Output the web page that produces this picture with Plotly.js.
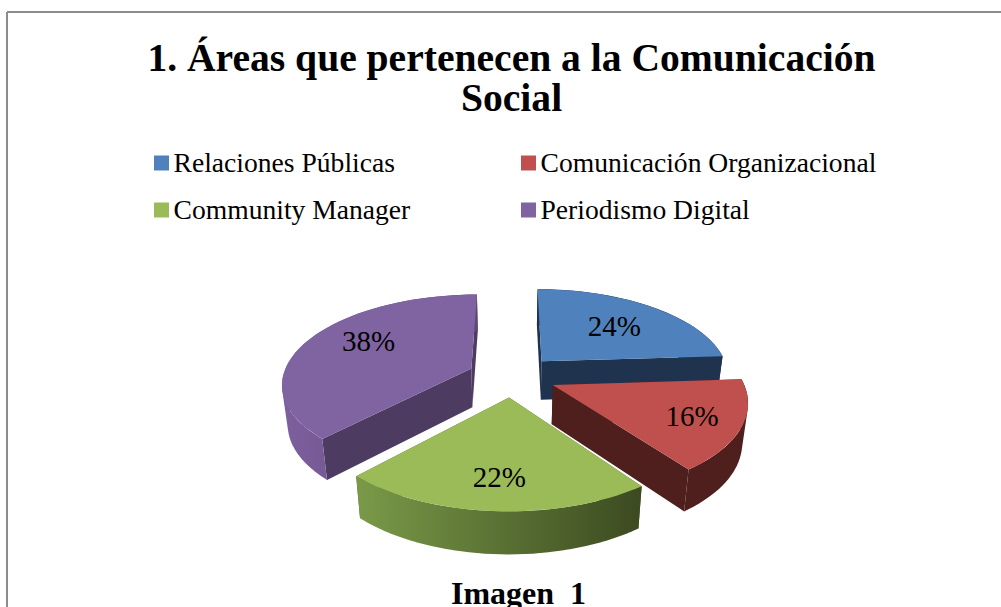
<!DOCTYPE html>
<html><head><meta charset="utf-8">
<script src="https://cdn.plot.ly/plotly-3.0.1.min.js"></script>
<style>html,body{margin:0;padding:0;background:#fff}#c{width:1001px;height:607px}</style>
</head><body><div id="c"></div>
<script>
// Data
const categories = ['Relaciones Públicas','Comunicación Organizacional','Community Manager','Periodismo Digital'];
const percents = [24,16,22,38];
const topColors = ['#4f81bd','#c0504d','#9bbb59','#8064a2'];
const wallColors = ['#1f324e','#4f1f1e','#4f6029','#4d3b62'];
const rimScales = [['#1f324e','#1f324e'],['#4f1f1e','#4f1f1e'],['#7a9a48','#3b4a20'],['#7d5f9e','#5e4879']];
const titleLine1 = '1. Áreas que pertenecen a la Comunicación';
const titleLine2 = 'Social';
const captionText = 'Imagen\u00a0\u00a01';

// Projection of the exploded tilted pie onto page-sized axes
const cx=512, cy=376, A=188.5, B=88, p=0.16, explode=0.235;
function proj(u,v){const d=1-p*v;return [cx+A*u/d, cy+B*v/d];}
function lower(pt){return [cx+(pt[0]-cx)*0.975, pt[1]+38.5+0.03*(pt[1]-360)];}
const rad=d=>d*Math.PI/180;
function surf(mid,r,th){
  return proj(explode*Math.sin(rad(mid))+r*Math.sin(rad(th)), -explode*Math.cos(rad(mid))-r*Math.cos(rad(th)));
}
function poly(pts,color,extra){
  return Object.assign({type:'scatter',mode:'lines',x:pts.map(q=>q[0]),y:pts.map(q=>q[1]),
    fill:'toself',fillcolor:color,line:{width:0,color:color},hoverinfo:'skip',showlegend:false},extra||{});
}
function area(q){let s=0;for(let k=0;k<q.length;k++){const a=q[k],b=q[(k+1)%q.length];s+=a[0]*b[1]-b[0]*a[1];}return s;}
const traces=[];
const starts=[]; let acc=0; percents.forEach(v=>{starts.push(acc);acc+=v*3.6;});
const mids=percents.map((v,i)=>starts[i]+v*1.8);
[3,0,1,2].forEach(i=>{
  const a=starts[i], b=a+percents[i]*3.6, m=mids[i];
  const apex=surf(m,0,0), pa=surf(m,1,a), pb=surf(m,1,b);
  const arc=[]; for(let t=a;t<=b+1e-6;t+=2) arc.push(surf(m,1,t)); arc.push(pb);
  const wall=(q,r)=>[q,r,lower(r),lower(q),q];
  traces.push(poly(wall(apex,pa),wallColors[i]));
  traces.push(poly(wall(apex,pb),wallColors[i]));
  // Rim: overlapping swept quads, all wound the same way so they merge without gaps
  const rim=[];
  for(let k=0;k<arc.length-1;k++){
    const n=arc[Math.min(k+2,arc.length-1)];
    let q=[arc[k],n,lower(n),lower(arc[k])];
    if(area(q)<0) q.reverse();
    if(rim.length) rim.push([null,null]);
    rim.push(...q,q[0]);
  }
  const xs=rim.filter(q=>q[0]!==null).map(q=>q[0]);
  traces.push(poly(rim,rimScales[i][0],{fillgradient:{type:'horizontal',start:Math.min(...xs),stop:Math.max(...xs),
    colorscale:[[0,rimScales[i][0]],[1,rimScales[i][1]]]}}));
  traces.push(poly([apex].concat(arc,[apex]),topColors[i]));
});
// Percent labels
const labelRadius=[0.63,0.745,0.735,0.69], labelTurn=[0,0,0,8];
const lp=percents.map((v,i)=>surf(mids[i],labelRadius[i],mids[i]+labelTurn[i]));
traces.push({type:'scatter',mode:'text',x:lp.map(q=>q[0]+1),y:lp.map(q=>q[1]+3),
  text:percents.map(v=>v+'%'),textposition:'middle center',
  textfont:{family:'Liberation Serif',size:29,color:'#000'},hoverinfo:'skip',showlegend:false});
// Legend drawn in place: coloured squares with their names
const keyX=[161.5,528.5,161.5,528.5], keyY=[163,163,210,210];
categories.forEach((c,i)=>{
  traces.push({type:'scatter',mode:'markers',x:[keyX[i]],y:[keyY[i]],name:c,
    marker:{symbol:'square',size:15,color:topColors[i]},hoverinfo:'skip',showlegend:false});
  traces.push({type:'scatter',mode:'text',x:[keyX[i]+12],y:[keyY[i]+2],text:[c],textposition:'middle right',
    textfont:{family:'Liberation Serif',size:27.6,color:'#000'},hoverinfo:'skip',showlegend:false});
});

const layout={width:1001,height:607,margin:{l:0,r:0,t:0,b:0},paper_bgcolor:'#fff',plot_bgcolor:'#fff',
  showlegend:false,
  title:{text:titleLine1,x:0.511,xanchor:'center',y:1-57/607,yanchor:'middle',
    font:{family:'Liberation Serif',size:39.6,color:'#000',weight:'bold'}},
  xaxis:{range:[0,1001],visible:false,fixedrange:true},
  yaxis:{range:[607,0],visible:false,fixedrange:true},
  shapes:[
    {type:'line',xref:'x',yref:'y',x0:7,y0:12,x1:1001,y1:12,line:{color:'#8c8c8c',width:2}},
    {type:'line',xref:'x',yref:'y',x0:7,y0:12,x1:7,y1:607,line:{color:'#8c8c8c',width:2}}
  ],
  annotations:[
   {xref:'x',yref:'y',x:511,y:98,text:'<b>'+titleLine2+'</b>',showarrow:false,xanchor:'center',yanchor:'middle',
    font:{family:'Liberation Serif',size:39.6,color:'#000'}},
   {xref:'x',yref:'y',x:518.5,y:593,text:'<b>'+captionText+'</b>',showarrow:false,xanchor:'center',yanchor:'middle',
    font:{family:'Liberation Serif',size:32,color:'#000'}}]
};
Plotly.newPlot('c',traces,layout,{displayModeBar:false,staticPlot:true});
</script></body></html>
